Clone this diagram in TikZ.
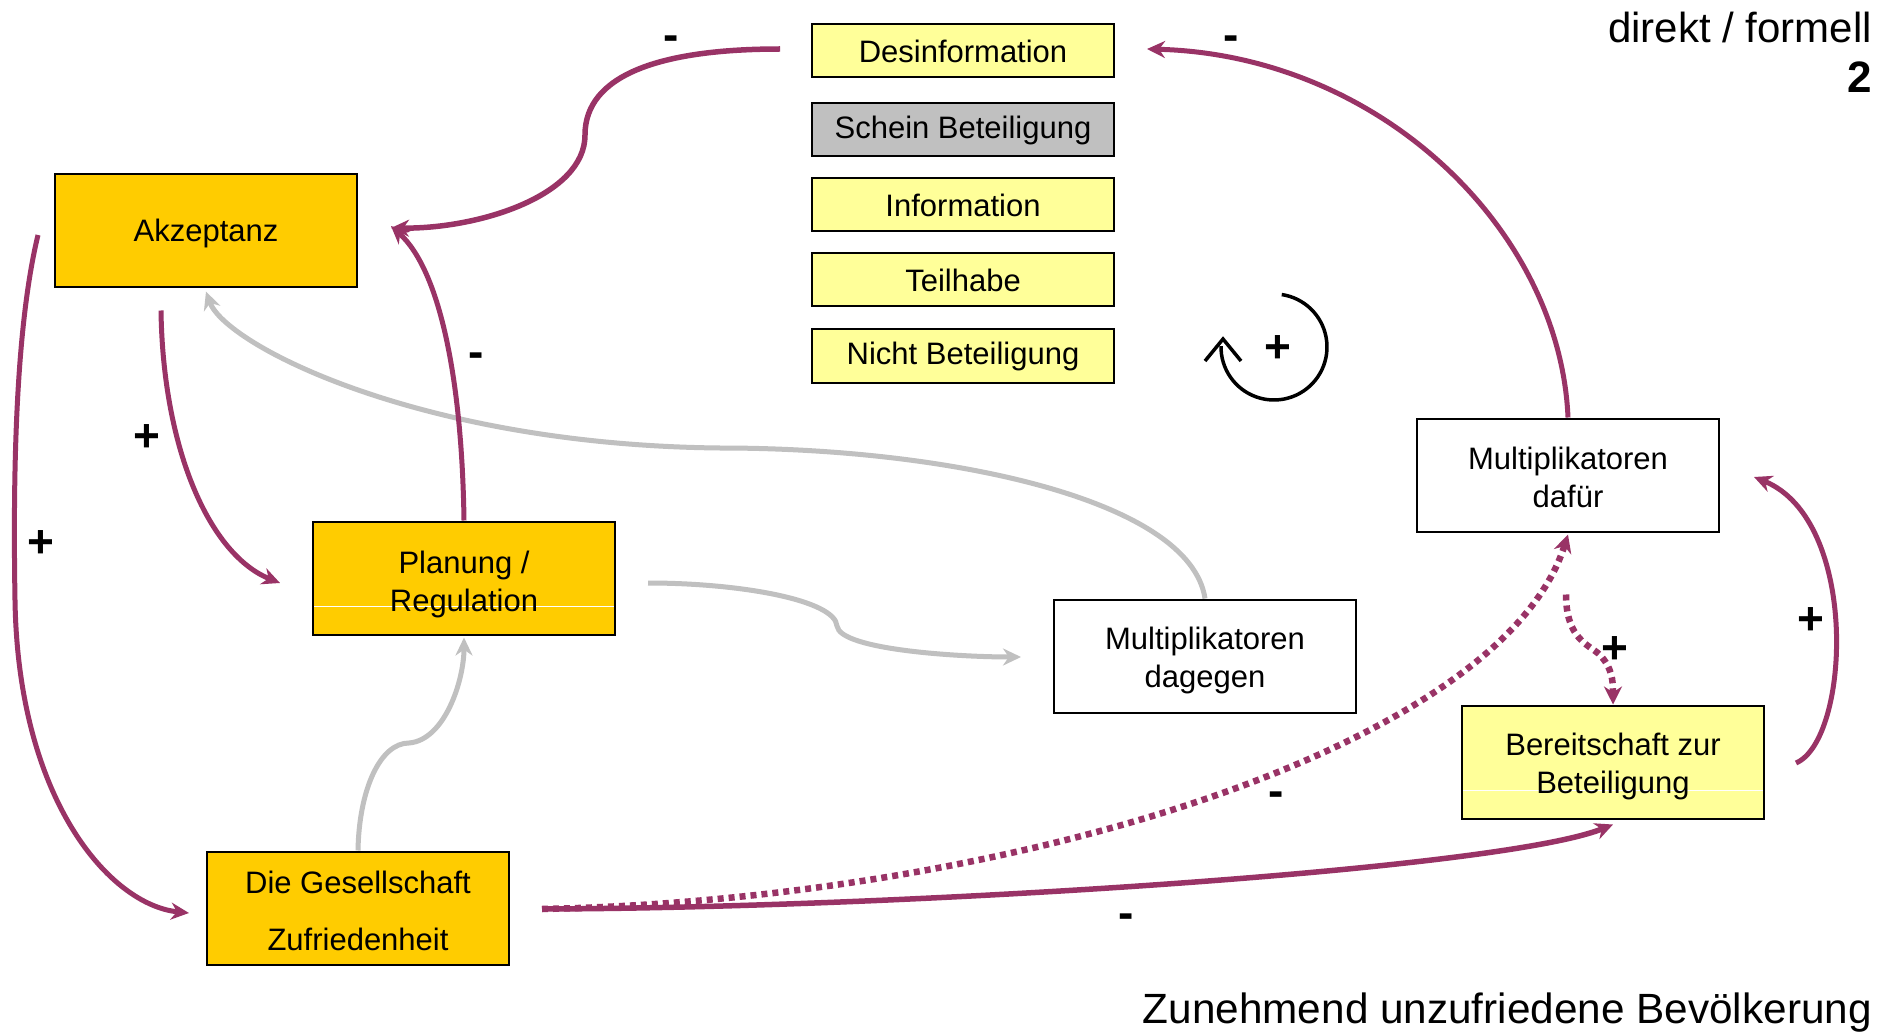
\documentclass[tikz,border=0pt]{standalone}
\usepackage{fontspec}
\setmainfont{Liberation Sans}
\usetikzlibrary{arrows.meta,calc}
\definecolor{plum}{RGB}{153,51,102}
\definecolor{gold}{RGB}{255,204,0}
\definecolor{lightyel}{RGB}{255,255,153}
\definecolor{silv}{RGB}{192,192,192}
\definecolor{boxgray}{RGB}{192,192,192}
\newcommand\padtop[1]{\rule{0pt}{#1pt}}
\begin{document}
\begin{tikzpicture}[x=1pt,y=-1pt,
  bigbox/.style={draw=black,line width=2pt,minimum width=302pt,minimum height=113pt,inner sep=0pt,align=center,font=\fontsize{31}{38}\selectfont},
  smallbox/.style={draw=black,line width=2pt,fill=lightyel,minimum width=302pt,minimum height=53pt,inner sep=0pt,font=\fontsize{31}{37}\selectfont},
  signlabel/.style={font=\bfseries\fontsize{46}{46}\selectfont,inner sep=0pt},
  plumarrow/.style={draw=plum,line width=5pt,-{Stealth[length=18pt,width=17pt]}},
  grayarrow/.style={draw=silv,line width=5pt,-{Stealth[length=18pt,width=17pt]}},
  dotarrow/.style={draw=plum,line width=6.5pt,dash pattern=on 6pt off 5pt,-{Stealth[length=18pt,width=18pt]}},
  whiteline/.style={path picture={\draw[white,line width=1pt] ([yshift=-28pt]path picture bounding box.west) -- ([yshift=-28pt]path picture bounding box.east);}},
]
\useasboundingbox[fill=white] (0,0) rectangle (1888,1032);

% boxes
\node[bigbox,fill=gold] (akz) at (206,231) {\padtop{27}Akzeptanz};
\node[bigbox,fill=gold,whiteline] (plan) at (464,578) {\padtop{36}Planung /\\Regulation};
\node[bigbox,fill=gold,font=\fontsize{31}{57}\selectfont] (ges) at (358,908) {\padtop{28}Die Gesellschaft\\Zufriedenheit};
\node[bigbox,fill=white] (dag) at (1205,656) {\padtop{32}Multiplikatoren\\dagegen};
\node[bigbox,fill=white] (daf) at (1568,475) {\padtop{28}Multiplikatoren\\dafür};
\node[bigbox,fill=lightyel,whiteline] (ber) at (1613,762) {\padtop{32}Bereitschaft zur\\Beteiligung};

\node[smallbox] (desinf) at (963,51) {Desinformation};
\node[smallbox,fill=boxgray] (schein) at (963,130) {Schein Beteiligung};
\node[smallbox] (info) at (963,205) {Information};
\node[smallbox] (teil) at (963,280) {Teilhabe};
\node[smallbox] (nicht) at (963,356) {Nicht Beteiligung};

% gray connectors
\draw[grayarrow] (dag.north) .. controls (1190,500) and (950,448) .. (720,448)
   .. controls (420,445) and (225,345) .. ($(akz.south)+(0,3)$);
\draw[grayarrow] ($(plan.east)+(32,5)$) .. controls (740,583) and (835,600) .. (837,626)
   .. controls (840,650) and (960,657) .. ($(dag.west)+(-32,1)$);
\draw[grayarrow] (ges.north) .. controls (359,790) and (380,743) .. (409,743)
   .. controls (445,740) and (464,680) .. ($(plan.south)+(0,2)$);

% purple connectors
\draw[plumarrow,line width=5.5pt] ($(desinf.west)+(-31,-2)$) .. controls (660,49) and (585,75) .. (585,135)
   .. controls (585,195) and (480,229) .. ($(akz.east)+(33,-3)$);
\draw[plumarrow] (daf.north) .. controls (1560,230) and (1380,55) .. ($(desinf.east)+(32,-2)$);
\draw[plumarrow] (plan.north) .. controls (462,380) and (440,270) .. ($(akz.east)+(33,-5)$);
\draw[plumarrow] ($(akz.south)+(-45,22)$) .. controls (163,450) and (210,555) .. ($(plan.west)+(-32,5)$);
\draw[plumarrow] ($(akz.west)+(-16,4)$) .. controls (15,330) and (13,480) .. (15,600)
   .. controls (18,800) and (110,905) .. ($(ges.west)+(-17,5)$);
\draw[plumarrow,line width=5.5pt] ($(ges.east)+(32,1)$) .. controls (900,908) and (1500,870) .. ($(ber.south)+(0,5)$);
\draw[dotarrow] ($(ges.east)+(32,1)$) .. controls (1000,900) and (1500,750) .. ($(daf.south)+(0,2)$);
\draw[dotarrow] ($(daf.south)+(-2,62)$) .. controls (1566,640) and (1590,645) .. (1600,655)
   .. controls (1612,668) and (1613,680) .. (ber.north);
\draw[plumarrow] ($(ber.east)+(31,1)$) .. controls (1850,740) and (1860,520) .. ($(daf.east)+(34,2)$);

% loop symbol
\draw[black,line width=3.5pt] plot[domain=-81.6:181,samples=60,smooth] ({1274+53*cos(\x)},{347+53*sin(\x)});
\draw[black,line width=3.5pt] (1205,361) -- (1223,339) -- (1241,361);

% signs
\node[signlabel] (s1) at (671,43) {-};
\node[signlabel] (s2) at (1231,43) {-};
\node[signlabel] (s3) at (476,360) {-};
\node[signlabel] (s4) at (147,438) {+};
\node[signlabel] (s5) at (41,544) {+};
\node[signlabel] (s6) at (1278,349) {+};
\node[signlabel] (s7) at (1615,650) {+};
\node[signlabel] (s8) at (1811,621) {+};
\node[signlabel] (s9) at (1276,799) {-};
\node[signlabel] (s10) at (1126,921) {-};

% corner texts
\node[anchor=base east,inner sep=0pt,font=\fontsize{42}{42}\selectfont] (t1) at (1872,43) {direkt / formell};
\node[anchor=base east,inner sep=0pt,font=\bfseries\fontsize{44}{44}\selectfont] (t2) at (1872,93) {2};
\node[anchor=base east,inner sep=0pt,font=\fontsize{42.3}{42.3}\selectfont] (t3) at (1872,1023) {Zunehmend unzufriedene Bevölkerung};
\end{tikzpicture}
\end{document}
